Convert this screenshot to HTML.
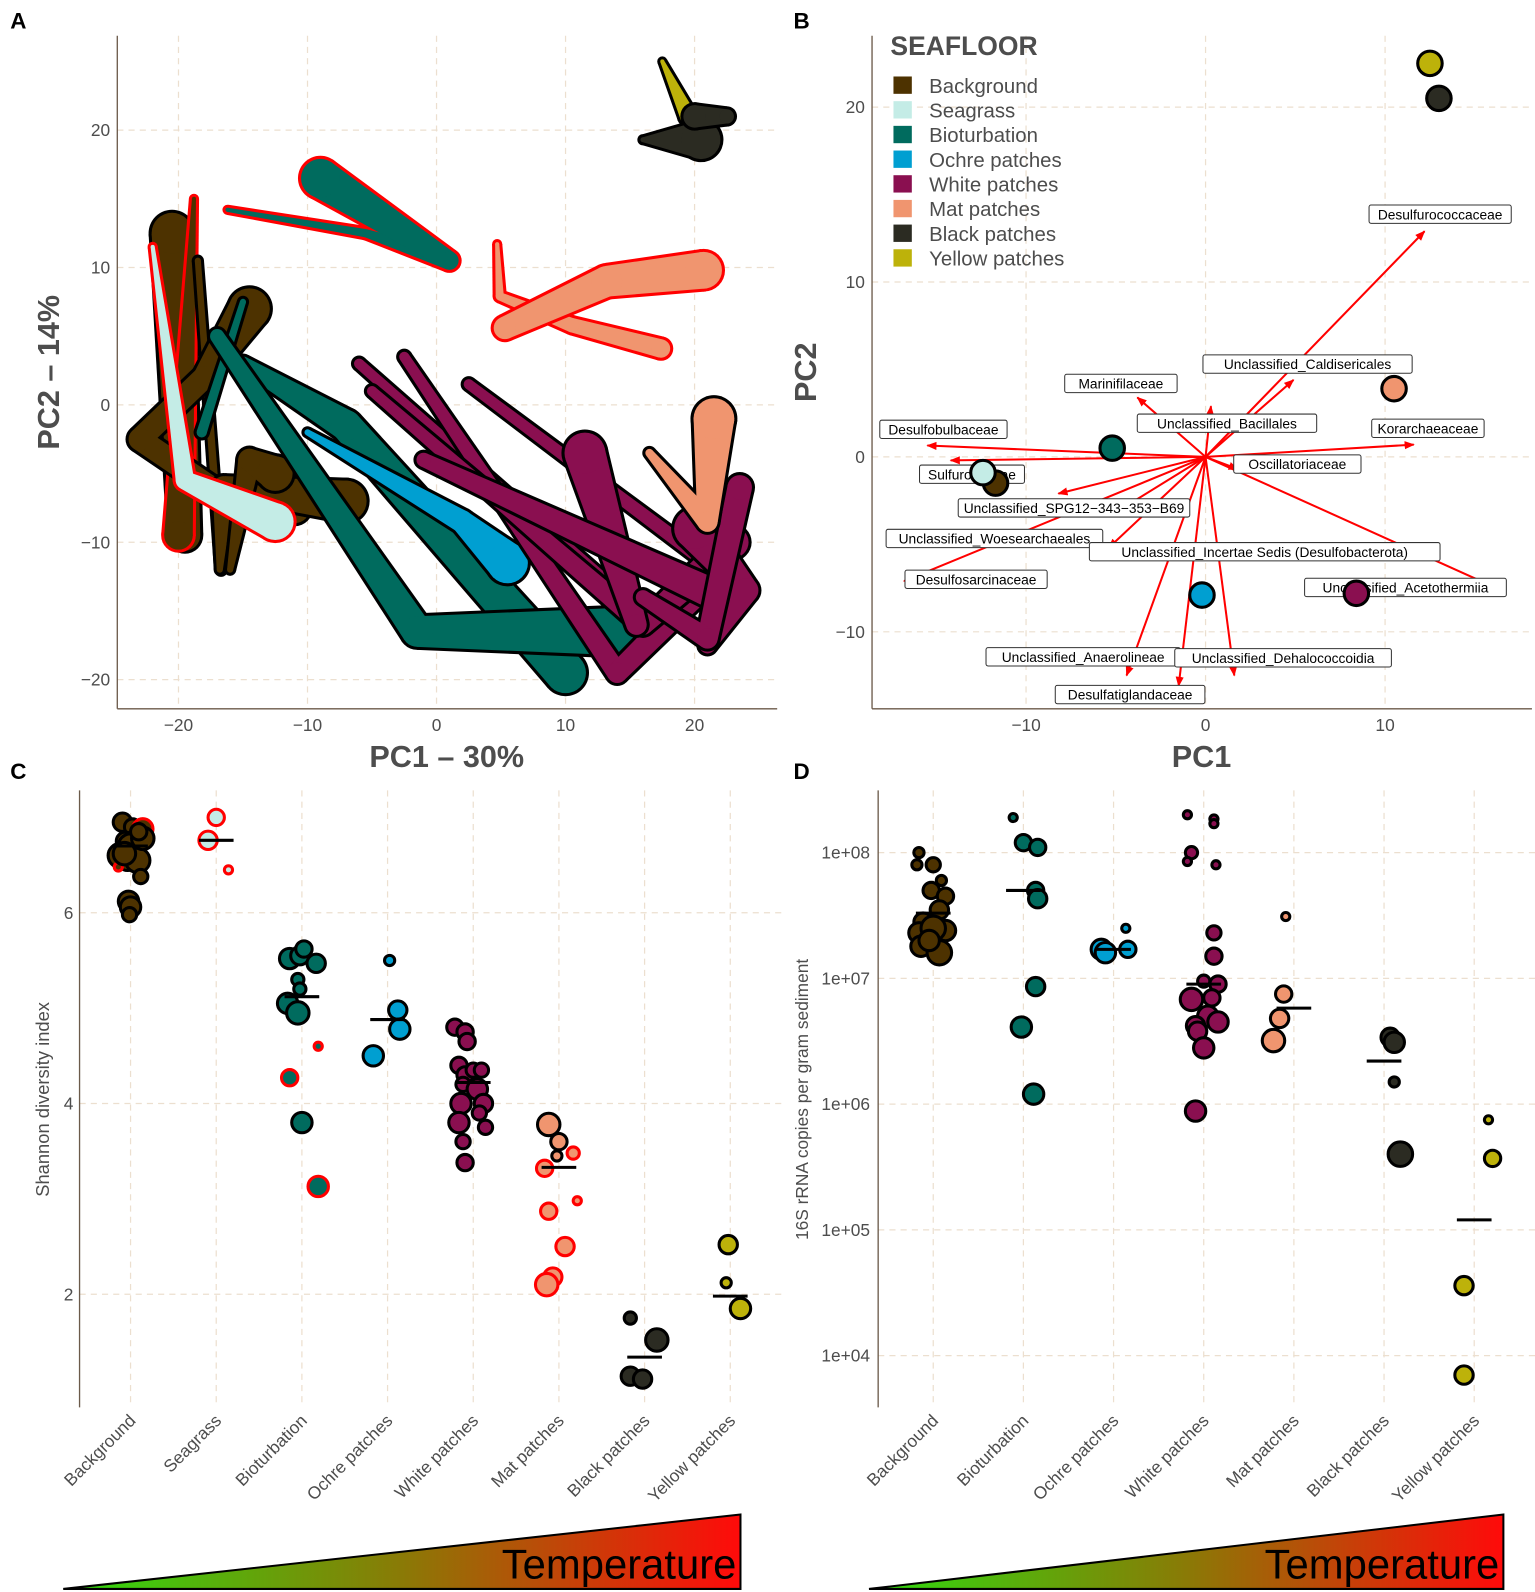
<!DOCTYPE html>
<html><head><meta charset="utf-8"><style>
body{margin:0;background:#fff;}
svg{display:block;font-family:"Liberation Sans",sans-serif;}
.tick{fill:#4d4d4d;font-size:17px;}
.grid{stroke:#ecdfcf;stroke-width:1.2;stroke-dasharray:6,5;}
.axis{stroke:#6b5a4a;stroke-width:1.3;}
.lbl{font-size:13.5px;fill:#000;}
</style></head><body>
<svg id="fig" width="1535" height="1592" viewBox="0 0 1505 1561" preserveAspectRatio="none" xmlns="http://www.w3.org/2000/svg">
<defs>
<linearGradient id="tg" x1="0" x2="1" y1="0" y2="0"><stop offset="0" stop-color="#2edc10"/><stop offset="0.5" stop-color="#8a7a06"/><stop offset="1" stop-color="#ff0a0a"/></linearGradient>
<marker id="ah" viewBox="0 0 10 10" refX="9" refY="5" markerWidth="5" markerHeight="5" orient="auto"><path d="M0,1 L10,5 L0,9 z" fill="#f00"/></marker>
</defs>
<g font-weight="bold" font-size="22" fill="#000">
<text x="10" y="28">A</text>
<text x="778" y="28">B</text>
<text x="10" y="764">C</text>
<text x="778" y="764">D</text>
</g>
<g id="pa"></g>
<g id="pb"></g>
<g id="pc"></g>
<g id="pd"></g>
<g>
<polygon points="62,1558 726,1485 726,1558" fill="url(#tg)" stroke="#000" stroke-width="2"/>
<text x="722" y="1548" text-anchor="end" font-size="41" fill="#000">Temperature</text>
</g>
<g>
<polygon points="852,1558 1474,1485 1474,1558" fill="url(#tg)" stroke="#000" stroke-width="2"/>
<text x="1470" y="1548" text-anchor="end" font-size="41" fill="#000">Temperature</text>
</g>
</svg>
<script>
const NS="http://www.w3.org/2000/svg";
function mk(p,t,a){const e=document.createElementNS(NS,t);for(const k in a)e.setAttribute(k,a[k]);p.appendChild(e);return e;}
const COL={bg:"#4d3200",sg:"#c4ece6",bt:"#006b5e",oc:"#009fd1",wp:"#8a0f50",mp:"#f0956f",bp:"#2b2b22",yp:"#bdb20a"};

// ---------- Panel A data ----------
const aXTicks=[-20,-10,0,10,20];
const aYTicks=[-20,-10,0,10,20];
const aTraces=[
 ["bg","#000",[[-20.5,12.5,40],[-19.5,-9.5,30]]],
 ["bg","#f00",[[-18.8,15,4],[-20,-9.5,28]]],
 ["bg","#000",[[-18.5,10.5,6],[-16.7,-12,8]]],
 ["bg","#000",[[-14.5,7,40],[-18,2,22],[-23,-2.5,22],[-17.5,-6,22],[-11,-7.5,30]]],
 ["bg","#000",[[-16.8,-12,6],[-16.5,-6,22],[-7,-7,40]]],
 ["bg","#000",[[-16,-12,6],[-14.5,-4,22],[-12.5,-5,34]]],
 ["bt","#000",[[-15,7.5,6],[-18.2,-2,10]]],
 ["bt","#000",[[-15,3,14],[-7,-1.5,30],[10,-19.5,40]]],
 ["bt","#000",[[-17,5,14],[-1.5,-16.5,30],[15.5,-16.5,48]]],
 ["sg","#f00",[[-22,11.5,4],[-19.5,-5.5,18],[-12.5,-8.5,36]]],
 ["bt","#f00",[[-16.2,14.2,4],[-5.5,12.5,8],[1,10.5,18],[-9,16.5,38]]],
 ["mp","#f00",[[4.7,11.7,4],[4.9,7.9,8],[10.5,5.8,14],[17.4,4.1,18]]],
 ["mp","#f00",[[5.3,5.6,22],[13.2,9.0,30],[20.7,9.8,36]]],
 ["oc","#000",[[-10,-2,6],[2,-8.5,22],[5.5,-11.5,40]]],
 ["wp","#000",[[-6,3,10],[15,-14.5,14]]],
 ["wp","#000",[[-2.5,3.5,10],[14,-19.5,20],[21.5,-12.5,24]]],
 ["wp","#000",[[2.5,1.5,10],[21,-11.5,14]]],
 ["wp","#000",[[-5,1,10],[16,-16,20],[23,-10,30]]],
 ["wp","#000",[[11.5,-3.5,40],[15.5,-16,20]]],
 ["wp","#000",[[-1,-4,14],[22,-14,30]]],
 ["wp","#000",[[20,-9,40],[24,-13.5,24],[21,-17.5,16]]],
 ["wp","#000",[[23.5,-6,24],[21,-17,20],[16,-14,14]]],
 ["mp","#000",[[21.5,-1,40],[21,-8.5,20],[16.5,-3.5,8]]],
 ["yp","#000",[[17.5,25,4],[19.5,21,16],[20.5,20,24]]],
 ["bp","#000",[[16,19.3,5],[20.5,19.3,38]]],
 ["bp","#000",[[20,21,22],[22.5,21,14]]]
];
const ax=v=>428+v*12.65, ay=v=>397-v*13.47;
(function(){
 const g=document.getElementById('pa');
 aXTicks.forEach(t=>{mk(g,'line',{x1:ax(t),x2:ax(t),y1:35,y2:695,class:'grid'});
  const e=mk(g,'text',{x:ax(t),y:717,'text-anchor':'middle',class:'tick'});e.textContent=t<0?'\u2212'+(-t):t;
  });
 aYTicks.forEach(t=>{mk(g,'line',{x1:115,x2:762,y1:ay(t),y2:ay(t),class:'grid'});
  const e=mk(g,'text',{x:108,y:ay(t)+6,'text-anchor':'end',class:'tick'});e.textContent=t<0?'\u2212'+(-t):t;
  });
 mk(g,'line',{x1:115,x2:115,y1:35,y2:695,class:'axis'});
 mk(g,'line',{x1:115,x2:762,y1:695,y2:695,class:'axis'});
 function taper(p,pts,extra,col){
  for(let i=0;i<pts.length-1;i++){
   const [x1,y1,w1]=pts[i],[x2,y2,w2]=pts[i+1];
   const X1=ax(x1),Y1=ay(y1),X2=ax(x2),Y2=ay(y2);
   let dx=X2-X1,dy=Y2-Y1,L=Math.hypot(dx,dy)||1;const nx=-dy/L,ny=dx/L;
   const a=(w1+extra)/2,b=(w2+extra)/2;
   mk(p,'polygon',{points:`${X1+nx*a},${Y1+ny*a} ${X2+nx*b},${Y2+ny*b} ${X2-nx*b},${Y2-ny*b} ${X1-nx*a},${Y1-ny*a}`,fill:col});
  }
  pts.forEach(q=>mk(p,'circle',{cx:ax(q[0]),cy:ay(q[1]),r:(q[2]+extra)/2,fill:col}));
 }
 aTraces.forEach(tr=>{
  const t=mk(g,'g',{});
  
  
  taper(t,tr[2],6,tr[1]);taper(t,tr[2],0,COL[tr[0]]);
 });
 let e=mk(g,'text',{x:438,y:752,'text-anchor':'middle','font-size':30,'font-weight':'bold',fill:'#4d4d4d'});e.textContent='PC1 \u2013 30%';
 
 e=mk(g,'text',{x:0,y:0,transform:'translate(58,365) rotate(-90)','text-anchor':'middle','font-size':30,'font-weight':'bold',fill:'#4d4d4d'});e.textContent='PC2 \u2013 14%';
 
})();

// ---------- Panel B data ----------
const bXTicks=[-10,0,10];
const bYTicks=[-10,0,10,20];
const bGroups=["yp","bp","mp","bt","bg","sg","oc","wp"];
const bPC1=[12.5,13.0,10.5,-5.2,-11.7,-12.4,-0.2,8.4];
const bPC2=[22.5,20.5,3.9,0.5,-1.5,-0.9,-7.9,-7.8];
const bTaxa=["Desulfurococcaceae","Unclassified_Caldisericales","Marinifilaceae","Unclassified_Bacillales","Korarchaeaceae","Desulfobulbaceae","Sulfurovaceae","Oscillatoriaceae","Unclassified_SPG12\u2212343\u2212353\u2212B69","Unclassified_Woesearchaeales","Desulfosarcinaceae","Unclassified_Incertae Sedis (Desulfobacterota)","Unclassified_Acetothermiia","Unclassified_Anaerolineae","Desulfatiglandaceae","Unclassified_Dehalococcoidia"];
const bLoadX=[12.2,4.9,-3.8,0.3,11.6,-15.5,-14.2,1.8,-8.2,-5.2,-16.8,-5.4,16.2,-4.4,-1.5,1.6];
const bLoadY=[12.9,4.4,3.4,2.9,0.7,0.65,-0.2,-0.7,-2.1,-3.3,-7.1,-5.2,-7.5,-12.5,-13.1,-12.5];
const bLabX=[1412,1282,1099,1203,1400,925,953,1272,1053,975,957,1240,1378,1062,1108,1258];
const bLabY=[210,357,376,415,420,421,465,455,498,528,568,541,576,644,681,645];
const bLegend=[["Background","bg"],["Seagrass","sg"],["Bioturbation","bt"],["Ochre patches","oc"],["White patches","wp"],["Mat patches","mp"],["Black patches","bp"],["Yellow patches","yp"]];
const bx=v=>1182+v*17.6, by=v=>448-v*17.15;
(function(){
 const g=document.getElementById('pb');
 bXTicks.forEach(t=>{mk(g,'line',{x1:bx(t),x2:bx(t),y1:35,y2:695,class:'grid'});
  const e=mk(g,'text',{x:bx(t),y:717,'text-anchor':'middle',class:'tick'});e.textContent=t<0?'\u2212'+(-t):t;
  });
 bYTicks.forEach(t=>{mk(g,'line',{x1:855,x2:1502,y1:by(t),y2:by(t),class:'grid'});
  const e=mk(g,'text',{x:848,y:by(t)+6,'text-anchor':'end',class:'tick'});e.textContent=t<0?'\u2212'+(-t):t;
  });
 mk(g,'line',{x1:855,x2:855,y1:35,y2:695,class:'axis'});
 mk(g,'line',{x1:855,x2:1502,y1:695,y2:695,class:'axis'});
 bTaxa.forEach((n,i)=>{
  const l=mk(g,'line',{x1:bx(0),y1:by(0),x2:bx(bLoadX[i]),y2:by(bLoadY[i]),stroke:'#f00','stroke-width':2,'marker-end':'url(#ah)'});
  
 });
 bTaxa.forEach((n,i)=>{
  const lg=mk(g,'g',{});
  
  const t=mk(lg,'text',{x:bLabX[i],y:bLabY[i]+5,'text-anchor':'middle',class:'lbl'});t.textContent=n;
  const w=n.length*7.3+8;
  const r=mk(lg,'rect',{x:bLabX[i]-w/2,y:bLabY[i]-9,width:w,height:18,rx:2,fill:'#fff',stroke:'#333','stroke-width':1});
  lg.insertBefore(r,t);
 });
 bGroups.forEach((gr,i)=>{
  const c=mk(g,'circle',{cx:bx(bPC1[i]),cy:by(bPC2[i]),r:12,fill:COL[gr],stroke:'#000','stroke-width':3});
  
 });
 let e=mk(g,'text',{x:873,y:54,'font-size':26,'font-weight':'bold',fill:'#4d4d4d'});e.textContent='SEAFLOOR';
 
 bLegend.forEach((L,i)=>{
  const lg=mk(g,'g',{});
  mk(lg,'rect',{x:876,y:75+i*24.2,width:18,height:17,fill:COL[L[1]]});
  const t=mk(lg,'text',{x:911,y:91+i*24.2,'font-size':20,fill:'#4d4d4d'});t.textContent=L[0];
 });
 e=mk(g,'text',{x:1178,y:752,'text-anchor':'middle','font-size':30,'font-weight':'bold',fill:'#4d4d4d'});e.textContent='PC1';
 
 e=mk(g,'text',{x:0,y:0,transform:'translate(800,365) rotate(-90)','text-anchor':'middle','font-size':30,'font-weight':'bold',fill:'#4d4d4d'});e.textContent='PC2';
 
})();

// ---------- Panel C data ----------
const cCats=["Background","Seagrass","Bioturbation","Ochre patches","White patches","Mat patches","Black patches","Yellow patches"];
const cKeys=["bg","sg","bt","oc","wp","mp","bp","yp"];
const cYTicks=[2,4,6];
const cMeans=[6.7,6.76,5.12,4.88,4.22,3.33,1.34,1.98];
const cPts=[
[0,-8,6.95,9,0],[0,2,6.9,8,0],[0,12,6.88,10,1],[0,-5,6.75,9,0],[0,0,6.7,12,0],[0,6,6.65,8,0],[0,-10,6.6,12,0],[0,-3,6.55,10,0],[0,7,6.55,12,0],[0,-12,6.48,4,1],[0,10,6.38,7,0],[0,-2,6.12,10,0],[0,0,6.06,10,0],[0,-1,5.98,7,0],[0,12,6.78,11,0],[0,-6,6.62,11,0],[0,8,6.85,8,0],
[1,-8,6.76,9,1],[1,0,7.0,8,1],[1,12,6.45,4,1],
[2,-12,5.52,10,0],[2,-2,5.55,9,0],[2,2,5.62,8,0],[2,14,5.47,9,0],[2,-4,5.3,6,0],[2,-2,5.2,6,0],[2,-14,5.05,10,0],[2,-4,4.95,11,0],[2,16,4.6,4,1],[2,-12,4.27,8,1],[2,0,3.8,10,0],[2,16,3.13,10,1],
[3,2,5.5,5,0],[3,10,4.98,9,0],[3,12,4.78,10,0],[3,-14,4.5,10,0],
[4,-18,4.8,8,0],[4,-8,4.75,8,0],[4,-6,4.65,8,0],[4,-14,4.4,8,0],[4,-8,4.3,8,0],[4,0,4.35,7,0],[4,8,4.35,7,0],[4,-10,4.2,7,0],[4,4,4.15,10,0],[4,-12,4.0,10,0],[4,10,4.0,9,0],[4,-14,3.8,10,0],[4,6,3.9,7,0],[4,12,3.75,7,0],[4,-10,3.6,7,0],[4,-8,3.38,8,0],
[5,-10,3.78,11,0],[5,0,3.6,8,0],[5,-2,3.45,5,0],[5,14,3.48,6,1],[5,-14,3.32,8,1],[5,18,2.98,4,1],[5,-10,2.87,8,1],[5,6,2.5,9,1],[5,-6,2.18,9,1],[5,-12,2.1,11,1],
[6,-14,1.75,6,0],[6,12,1.52,11,0],[6,-14,1.14,9,0],[6,-2,1.11,9,0],
[7,-2,2.52,9,0],[7,-4,2.12,5,0],[7,10,1.85,10,0]
];
const cx=i=>128+i*84, cy=v=>1082-(v-4)*93.5;
(function(){
 const g=document.getElementById('pc');
 cCats.forEach((c,i)=>{mk(g,'line',{x1:cx(i),x2:cx(i),y1:775,y2:1380,class:'grid'});
  const e=mk(g,'text',{x:0,y:0,transform:`translate(${cx(i)+6},1394) rotate(-45)`,'text-anchor':'end',class:'tick'});e.textContent=c;
  });
 cYTicks.forEach(t=>{mk(g,'line',{x1:78,x2:770,y1:cy(t),y2:cy(t),class:'grid'});
  const e=mk(g,'text',{x:72,y:cy(t)+6,'text-anchor':'end',class:'tick'});e.textContent=t;
  });
 mk(g,'line',{x1:78,x2:78,y1:775,y2:1380,class:'axis'});
 cPts.forEach(p=>{const k=cKeys[p[0]];
  const c=mk(g,'circle',{cx:cx(p[0])+p[1],cy:cy(p[2]),r:p[3],fill:COL[k],stroke:p[4]?'#f00':'#000','stroke-width':3});
  });
 cMeans.forEach((m,i)=>{const l=mk(g,'line',{x1:cx(i)-17,x2:cx(i)+17,y1:cy(m),y2:cy(m),stroke:'#000','stroke-width':3});
  });
 const e=mk(g,'text',{x:0,y:0,transform:'translate(48,1078) rotate(-90)','text-anchor':'middle','font-size':18,fill:'#4d4d4d'});e.textContent='Shannon diversity index';
 
})();

// ---------- Panel D data ----------
const dCats=["Background","Bioturbation","Ochre patches","White patches","Mat patches","Black patches","Yellow patches"];
const dKeys=["bg","bt","oc","wp","mp","bp","yp"];
const dYTicks=[4,5,6,7,8];
const dMeans=[3.3e7,5e7,1.7e7,9e6,5.8e6,2.2e6,1.2e5];
const dPts=[
[0,-14,1.0e8,5],[0,-16,8e7,5],[0,0,8e7,7],[0,8,6e7,5],[0,-2,5e7,8],[0,12,4.5e7,8],[0,6,3.5e7,9],[0,-10,2.8e7,9],[0,12,2.4e7,10],[0,-14,2.3e7,10],[0,0,2.5e7,12],[0,-12,1.8e7,10],[0,6,1.6e7,12],[0,-4,2e7,10],
[1,-10,1.9e8,4],[1,0,1.2e8,8],[1,14,1.1e8,8],[1,12,5e7,8],[1,14,4.3e7,9],[1,12,8.6e6,9],[1,-2,4.1e6,10],[1,10,1.2e6,10],
[2,-12,1.7e7,10],[2,-8,1.6e7,10],[2,14,1.7e7,8],[2,12,2.5e7,4],
[3,-16,2e8,4],[3,10,1.85e8,4],[3,10,1.7e8,4],[3,-12,1.0e8,6],[3,-16,8.5e7,4],[3,12,8e7,4],[3,10,2.3e7,7],[3,10,1.5e7,8],[3,0,9.5e6,6],[3,14,9e6,8],[3,-12,6.8e6,11],[3,8,7e6,8],[3,4,5e6,10],[3,-8,4.2e6,9],[3,-6,3.8e6,9],[3,14,4.5e6,10],[3,0,2.8e6,10],[3,-8,8.8e5,10],
[4,-8,3.1e7,4],[4,-10,7.5e6,8],[4,-14,4.8e6,9],[4,-20,3.2e6,11],
[5,6,3.4e6,9],[5,10,3.1e6,10],[5,10,1.5e6,5],[5,16,4e5,12],
[6,14,7.5e5,4],[6,18,3.7e5,8],[6,-10,3.6e4,9],[6,-10,7e3,9]
];
const dx=i=>915+i*88.4, dy=v=>836-(Math.log10(v)-8)*123.3;
(function(){
 const g=document.getElementById('pd');
 dCats.forEach((c,i)=>{mk(g,'line',{x1:dx(i),x2:dx(i),y1:775,y2:1380,class:'grid'});
  const e=mk(g,'text',{x:0,y:0,transform:`translate(${dx(i)+6},1394) rotate(-45)`,'text-anchor':'end',class:'tick'});e.textContent=c;
  });
 dYTicks.forEach(t=>{const y=dy(Math.pow(10,t));mk(g,'line',{x1:861,x2:1505,y1:y,y2:y,class:'grid'});
  const e=mk(g,'text',{x:853,y:y+6,'text-anchor':'end',class:'tick','font-size':18});e.textContent='1e+0'+t;
  });
 mk(g,'line',{x1:861,x2:861,y1:775,y2:1380,class:'axis'});
 dPts.forEach(p=>{const k=dKeys[p[0]];
  const c=mk(g,'circle',{cx:dx(p[0])+p[1],cy:dy(p[2]),r:p[3],fill:COL[k],stroke:'#000','stroke-width':3});
  });
 dMeans.forEach((m,i)=>{const l=mk(g,'line',{x1:dx(i)-17,x2:dx(i)+17,y1:dy(m),y2:dy(m),stroke:'#000','stroke-width':3});
  });
 const e=mk(g,'text',{x:0,y:0,transform:'translate(792,1078) rotate(-90)','text-anchor':'middle','font-size':17,fill:'#4d4d4d'});e.textContent='16S rRNA copies per gram sediment';
 
})();
</script>
</body></html>
